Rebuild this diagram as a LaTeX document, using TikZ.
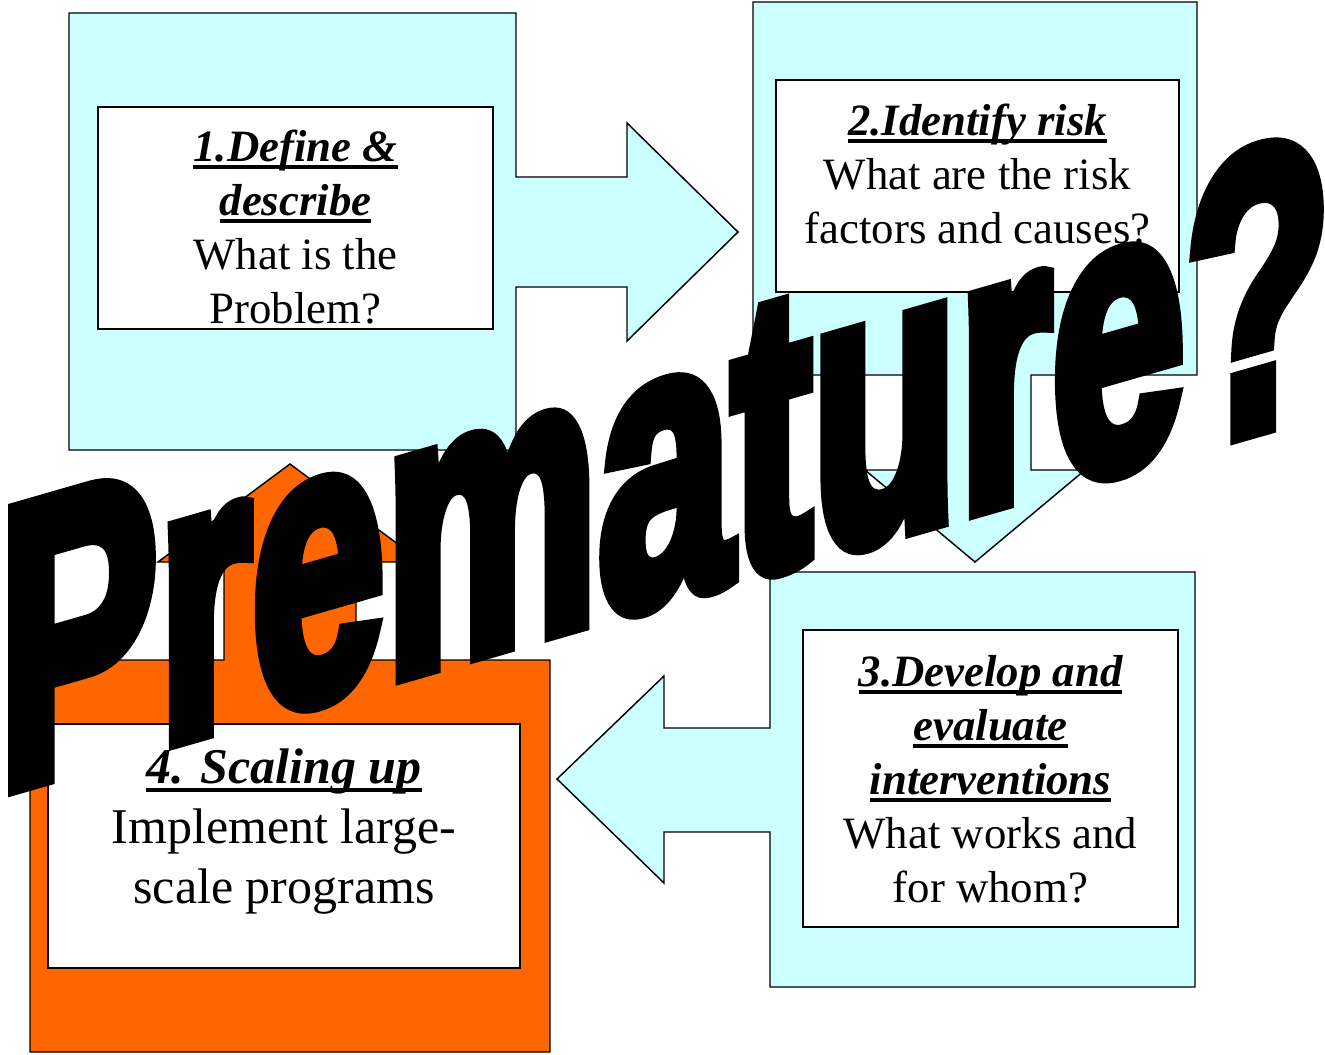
\documentclass[tikz,border=0pt]{standalone}
\usepackage{fontspec}
\setmainfont{Liberation Serif}
\newfontfamily\pmfont{Liberation Sans}[BoldFeatures={FakeBold=5}]
\usetikzlibrary{fit}
\definecolor{lcyan}{HTML}{CCFFFF}
\definecolor{orng}{HTML}{FF6600}
\newcommand\ulh[1]{\setbox0\hbox{\bfseries\itshape #1}\rlap{\rule[-0.18em]{\wd0}{0.09em}}\box0}
\newcommand\fst{\rule{0pt}{30pt}}
\begin{document}
\begin{tikzpicture}[x=0.75pt,y=-0.75pt,
  callout/.style={draw=black,line width=1.1pt,line join=miter},
  inbox/.style={draw=black,fill=white,line width=1.1pt,inner sep=0pt},
  body/.style={align=center,anchor=north,inner sep=0pt,font=\fontsize{33.6}{40.5}\selectfont},
  bigbody/.style={body,font=\fontsize{37.5}{45}\selectfont},
  bigword/.style={anchor=base west,inner sep=0pt,font=\fontsize{100}{100}\selectfont\pmfont\bfseries}]
\useasboundingbox (0,0) rectangle (1325,1054);
\fill[white] (0,0) rectangle (1325,1054);
% box 1 with right arrow
\draw[callout,fill=lcyan] (69,13) -- (516,13) -- (516,177) -- (627,177) -- (627,123) -- (738,232)
  -- (627,341) -- (627,287) -- (516,287) -- (516,450) -- (69,450) -- cycle;
% box 2 with down arrow
\draw[callout,fill=lcyan] (753,2) -- (1197,2) -- (1197,375) -- (1031,375) -- (1031,470) -- (1085,470)
  -- (975,562) -- (865,470) -- (919,470) -- (919,375) -- (753,375) -- cycle;
% box 3 with left arrow
\draw[callout,fill=lcyan] (770,572) -- (1195,572) -- (1195,987) -- (770,987) -- (770,832) -- (664,832)
  -- (664,883) -- (557,779) -- (664,676) -- (664,728) -- (770,728) -- cycle;
% box 4 with up arrow
\draw[callout,fill=orng] (30,660) -- (224,660) -- (224,562) -- (158,562) -- (290,464) -- (422,562)
  -- (356,562) -- (356,660) -- (550,660) -- (550,1052) -- (30,1052) -- cycle;
% inner boxes
\node[inbox,fit={(98,107) (493,329)}] (in1) {};
\node[inbox,fit={(776,80) (1179,292)}] (in2) {};
\node[inbox,fit={(803,630) (1178,927)}] (in3) {};
\node[inbox,fit={(48,724) (520,968)}] (in4) {};
% texts
\node[body] (t1) at (295.5,121) {\fst\ulh{1.Define \&}\\\ulh{describe}\\What is the\\Problem?};
\node[body] (t2) at (977.5,95) {\fst\ulh{2.Identify risk}\\What are the risk\\factors and causes?};
\node[body] (t3) at (990.5,646) {\fst\ulh{3.Develop and}\\\ulh{evaluate}\\\ulh{interventions}\\What works and\\for whom?};
\node[bigbody] (t4) at (284,743) {\fst\ulh{4. Scaling up}\\Implement large-\\scale programs};
% big word
\node[bigword,cm={1.80,0.518,0,2.98,(0,0)}] (pm) at (-2.5,790.4) {Premature?};
\end{tikzpicture}
\end{document}
